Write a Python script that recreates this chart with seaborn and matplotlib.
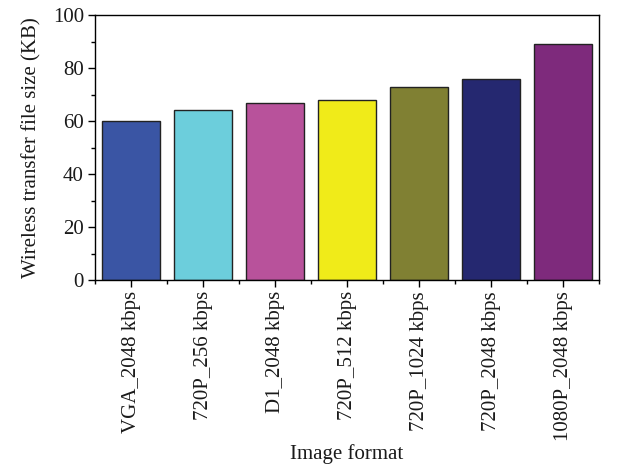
import pandas as pd
import matplotlib.pyplot as plt
import seaborn as sns
from matplotlib.ticker import MultipleLocator

# data
formats = ["VGA_2048 kbps", "720P_256 kbps", "D1_2048 kbps", "720P_512 kbps",
           "720P_1024 kbps", "720P_2048 kbps", "1080P_2048 kbps"]
sizes_kb = [60, 64, 67, 68, 73, 76, 89]
colors = ["#3A55A4", "#6CCEDC", "#B8529B", "#F0EB19", "#808033", "#252870", "#7E2A7C"]

df = pd.DataFrame({"format": formats, "size": sizes_kb})

sns.set_style("ticks")
plt.rcParams["font.family"] = ["Liberation Serif", "DejaVu Serif"]

fig = plt.figure(figsize=(6.17, 4.70), dpi=100)
ax = fig.add_axes([0.154, 0.404, 0.817, 0.564])

sns.barplot(data=df, x="format", y="size", hue="format", palette=colors,
            legend=False, width=0.8, edgecolor="#222222", linewidth=1.0,
            saturation=1, ax=ax)

ax.set_xlim(-0.5, 6.5)
ax.set_ylim(0, 100)
ax.yaxis.set_major_locator(MultipleLocator(20))
ax.yaxis.set_minor_locator(MultipleLocator(10))
ax.set_xticks(range(len(formats)))
ax.set_xticks([i + 0.5 for i in range(-1, len(formats))], minor=True)
ax.set_xticklabels(formats, rotation=90)

for s in ax.spines.values():
    s.set_visible(True)
    s.set_color("black")
    s.set_linewidth(1.0)

ax.tick_params(axis="both", which="major", direction="out", length=5, width=1,
               labelsize=15, color="black", labelcolor="#1a1a1a", pad=3)
ax.tick_params(axis="both", which="minor", direction="out", length=3, width=1,
               color="black")

ax.set_xlabel("Image format", fontsize=15, labelpad=2, color="#1a1a1a")
ax.set_ylabel("Wireless transfer file size (KB)", fontsize=15, labelpad=8,
              color="#1a1a1a")

fig.savefig("out.png", dpi=100)
